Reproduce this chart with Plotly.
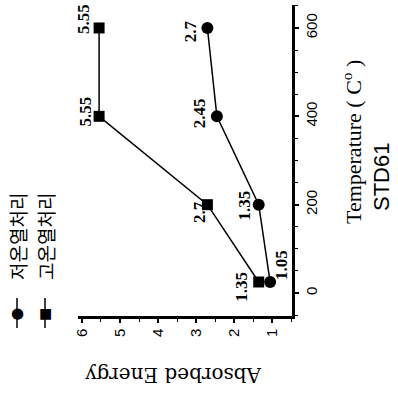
import plotly.graph_objects as go

# ---- data ----
temps = [25, 200, 400, 600]
low_energy = [1.05, 1.35, 2.45, 2.7]      # 저온열처리 (circles)
high_energy = [1.35, 2.7, 5.55, 5.55]     # 고온열처리 (squares)
low_labels = ["1.05", "1.35", "2.45", "2.7"]
high_labels = ["1.35", "2.7", "5.55", "5.55"]
series_names = ["저온열처리", "고온열처리"]
energy_ticks = [1, 2, 3, 4, 5, 6]
temp_ticks = [0, 200, 400, 600]

# ---- style: label offsets (px) ----
low_off = [(12, 17), (-14, -1), (-18, 3), (-16, -3)]
high_off = [(-17, -5), (-8, -7), (-14, 5), (-15, 9)]

W, H = 398, 393
L, R, T, B = 78, 106, 5, 77
pw, ph = W - L - R, H - T - B

def px(xp):
    return (xp - L) / pw

def py(yp):
    return (H - B - yp) / ph

fig = go.Figure()
fig.add_trace(go.Scatter(
    x=low_energy, y=temps, mode="lines+markers", name=series_names[0],
    line=dict(color="black", width=1.5),
    marker=dict(symbol="circle", size=12, color="black"),
    showlegend=False))
fig.add_trace(go.Scatter(
    x=high_energy, y=temps, mode="lines+markers", name=series_names[1],
    line=dict(color="black", width=1.5),
    marker=dict(symbol="square", size=11, color="black"),
    showlegend=False))

lab_font = dict(family="Liberation Serif", size=17, color="black")
for xs, labs, offs in [(low_energy, low_labels, low_off), (high_energy, high_labels, high_off)]:
    for xv, tv, lab, (dx, dy) in zip(xs, temps, labs, offs):
        fig.add_annotation(x=xv, y=tv, xref="x", yref="y", text="<b>%s</b>" % lab,
                           showarrow=False, textangle=-90, xshift=dx, yshift=dy,
                           xanchor="center", yanchor="middle", font=lab_font)

# axis titles
fig.add_annotation(x=px(173), y=py(375), xref="paper", yref="paper",
                   text="Absorbed Energy", showarrow=False, textangle=180,
                   xanchor="center", yanchor="middle",
                   font=dict(family="DejaVu Serif", size=20, color="black"))
fig.add_annotation(x=px(352), y=py(142), xref="paper", yref="paper",
                   text="Temperature ( C<sup>o</sup> )", showarrow=False, textangle=-90,
                   xanchor="center", yanchor="middle",
                   font=dict(family="Liberation Serif", size=22, color="black"))
fig.add_annotation(x=px(381), y=py(177), xref="paper", yref="paper",
                   text="STD61", showarrow=False, textangle=-90,
                   xanchor="center", yanchor="middle",
                   font=dict(family="Liberation Sans", size=22, color="black"))

# manual rotated legend
for lx, name, sym in [(17, series_names[0], "●"), (45, series_names[1], "■")]:
    fig.add_shape(type="line", xref="paper", yref="paper",
                  x0=px(lx), x1=px(lx), y0=py(298), y1=py(328),
                  line=dict(color="black", width=1.5))
    fig.add_annotation(x=px(lx), y=py(313), xref="paper", yref="paper",
                       text=sym, showarrow=False, xanchor="center", yanchor="middle",
                       font=dict(family="DejaVu Sans", size=15 if sym == "●" else 14, color="black"))
    fig.add_annotation(x=px(lx), y=py(237), xref="paper", yref="paper",
                       text=name, showarrow=False, textangle=-90,
                       xanchor="center", yanchor="middle",
                       font=dict(family="Noto Sans CJK KR", size=19, color="black"))

tick_font = dict(family="Liberation Sans", size=15, color="black")
fig.update_xaxes(range=[6.105, 0.474], tickvals=energy_ticks,
                 ticktext=[str(v) for v in energy_ticks], tickangle=-90,
                 showline=True, linecolor="black", linewidth=2.5, mirror=False,
                 ticks="outside", ticklen=4, tickwidth=1.5, tickcolor="black",
                 minor=dict(dtick=0.5, ticks="outside", ticklen=3, tickcolor="black", tickwidth=1),
                 showgrid=False, zeroline=False, tickfont=tick_font)
fig.update_yaxes(range=[-52, 652], tickvals=temp_ticks,
                 ticktext=[str(v) for v in temp_ticks], tickangle=-90, side="right",
                 showline=True, linecolor="black", linewidth=2.5, mirror=False,
                 ticks="outside", ticklen=4, tickwidth=1.5, tickcolor="black",
                 minor=dict(dtick=50, ticks="outside", ticklen=3, tickcolor="black", tickwidth=1),
                 showgrid=False, zeroline=False, tickfont=tick_font)
fig.update_layout(width=W, height=H, margin=dict(l=L, r=R, t=T, b=B),
                  plot_bgcolor="white", paper_bgcolor="white", showlegend=False)
fig.write_html("out.html", config={"displayModeBar": False},
               post_script="document.body.style.margin='0';")
